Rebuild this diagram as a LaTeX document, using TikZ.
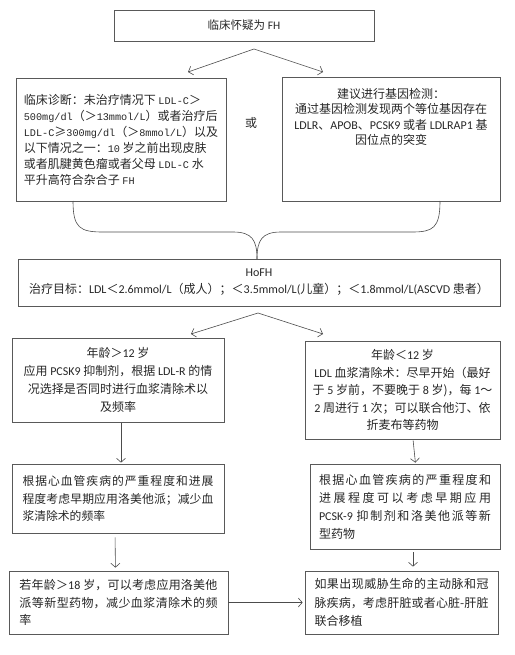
\documentclass[tikz,border=0pt]{standalone}
\usepackage{fontspec}
\setmainfont{Noto Sans CJK SC}
\newfontfamily\latf{Carlito}
\newfontfamily\monof[Scale=0.85]{Liberation Mono}
\newcommand\LT[1]{{\latf #1}}
\newcommand\ML[1]{{\monof #1}}
\XeTeXlinebreaklocale "zh"
\XeTeXlinebreakskip=0pt plus 2pt minus 0.5pt
\tolerance=10000
\hbadness=10000
\usetikzlibrary{arrows.meta}
\tikzset{
  box/.style={draw=black!65, line width=0.7pt, inner sep=0pt, text=black!85},
  conn/.style={draw=black!70, line width=0.6pt},
  arr/.style={conn, -{Straight Barb[length=4pt,width=9pt]}},
  ftwelve/.style={font=\fontsize{12}{#1}\selectfont},
}
\begin{document}
\begin{tikzpicture}[x=1pt,y=-1pt]
\useasboundingbox (0,0) rectangle (514,655);

% top
\node[box, minimum width=260pt, minimum height=31pt, font=\fontsize{11.5}{14}\selectfont] (A) at (244,25.5) {临床怀疑为 \LT{FH}};

\node[box, minimum width=210pt, minimum height=123pt, align=left, ftwelve=16] (B) at (121,139.5)
{临床诊断：未治疗情况下 \ML{LDL-C}＞\\
\ML{500mg/dl}（＞\ML{13mmol/L}）或者治疗后\\
\ML{LDL-C}≥\ML{300mg/dl}（＞\ML{8mmol/L}）以及\\
以下情况之一：\ML{10} 岁之前出现皮肤\\
或者肌腱黄色瘤或者父母 \ML{LDL-C} 水\\
平升高符合杂合子 \ML{FH}};

\node[box, minimum width=218pt, minimum height=124pt] (C) at (391,139) {};
\node[align=center, anchor=north, inner sep=0pt, text=black!85, ftwelve=15.5] (Ct) at (391,88)
{建议进行基因检测：\\
通过基因检测发现两个等位基因存在\\
\LT{LDLR}、\LT{APOB}、\LT{PCSK9} 或者 \LT{LDLRAP1} 基\\
因位点的突变};

\node[text=black!85, ftwelve=14] (or) at (251,123) {或};

\coordinate (t0) at (254,49);
\coordinate (t1) at (188,72);
\coordinate (t2) at (323,72);
\draw[arr] (t0) -- (t1);
\draw[arr] (t0) -- (t2);

% HoFH
\node[box, minimum width=482pt, minimum height=47pt, align=center, ftwelve=17] (D) at (259,282.5)
{\LT{HoFH}\\
治疗目标：\LT{LDL}＜\LT{2.6mmol/L}（成人）；＜\LT{3.5mmol/L(}儿童）；＜\LT{1.8mmol/L(ASCVD} 患者）};

% brace
\coordinate (bl) at (73,201);
\coordinate (br) at (440,201);
\coordinate (bm) at (257,259);
\draw[conn] (bl) .. controls (73,228) and (80,232) .. (103,232) -- (233,232) .. controls (252,232) and (257,240) .. (bm);
\draw[conn] (br) .. controls (440,228) and (433,232) .. (412,232) -- (281,232) .. controls (262,232) and (257,240) .. (bm);

% second row
\node[box, minimum width=212pt, minimum height=84pt, align=center, ftwelve=18] (E) at (118,380)
{年龄＞\LT{12} 岁\\
应用 \LT{PCSK9} 抑制剂，根据 \LT{LDL-R} 的情\\
况选择是否同时进行血浆清除术以\\
及频率};

\node[box, minimum width=195pt, minimum height=98pt, align=center, ftwelve=17.5] (F) at (402.5,390)
{年龄＜\LT{12} 岁\\
\LT{LDL} 血浆清除术：尽早开始（最好\\
于 \LT{5} 岁前，不要晚于 \LT{8} 岁)，每 \LT{1}～\\
\LT{2} 周进行 \LT{1} 次；可以联合他汀、依\\
折麦布等药物};

\coordinate (d0) at (258,313);
\coordinate (d1) at (191,334);
\coordinate (d2) at (323,334);
\draw[arr] (d0) -- (d1);
\draw[arr] (d0) -- (d2);

% third row
\node[box, minimum width=212pt, minimum height=69pt, text width=191pt, align=justify, font=\fontsize{11.8}{17.5}\selectfont] (G) at (118,498.5)
{根据心血管疾病的严重程度和进展\linebreak 程度考虑早期应用洛美他派；减少血\linebreak 浆清除术的频率};

\node[box, minimum width=190pt, minimum height=85pt, text width=172pt, align=justify, ftwelve=18] (I) at (405,506.5)
{根据心血管疾病的严重程度和\linebreak 进展程度可以考虑早期应用\linebreak \LT{PCSK-9} 抑制剂和洛美他派等新\linebreak 型药物};

% fourth row
\node[box, minimum width=219pt, minimum height=63pt, text width=198pt, align=justify, ftwelve=17.5] (H) at (118.5,602.5)
{若年龄＞\LT{18} 岁，可以考虑应用洛美他\linebreak 派等新型药物，减少血浆清除术的频\linebreak 率};

\node[box, minimum width=193pt, minimum height=63pt, text width=174pt, align=justify, ftwelve=18.5] (J) at (401.5,602.5)
{如果出现威胁生命的主动脉和冠\linebreak 脉疾病，考虑肝脏或者心脏-肝脏\linebreak 联合移植};

% vertical arrows
\draw[arr, shorten <=1pt, shorten >=1pt] ([xshift=3pt]E.south) -- ([xshift=3pt]G.north);
\draw[arr, shorten <=4pt, shorten >=3pt] ([xshift=-3pt]G.south) -- ([xshift=-3pt]H.north);
\draw[arr, shorten <=1pt, shorten >=1pt] ([xshift=10.5pt]F.south) -- ([xshift=10.5pt]I.north);
\draw[arr, shorten <=3pt, shorten >=4pt] ([xshift=8pt]I.south) -- ([xshift=11.5pt]J.north);
\draw[arr, shorten >=2pt] (H.east) -- (J.west);
\end{tikzpicture}
\end{document}
